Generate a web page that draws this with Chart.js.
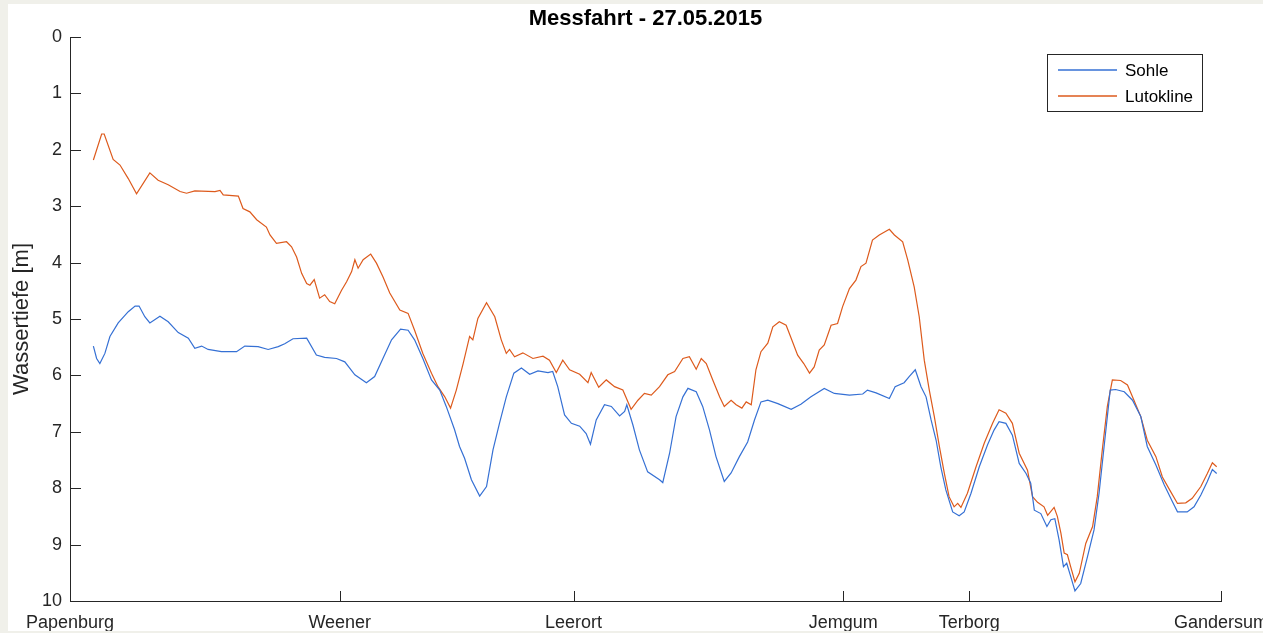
<!DOCTYPE html>
<html>
<head>
<meta charset="utf-8">
<script src="https://cdn.jsdelivr.net/npm/chart.js@4/dist/chart.umd.min.js"></script>
<style>
html,body{margin:0;padding:0;width:1263px;height:633px;overflow:hidden;background:#f0f0ea;}
#wrap{position:absolute;left:8px;top:4px;width:1275px;height:627px;background:#ffffff;}
canvas{display:block;}
</style>
</head>
<body>
<div id="wrap"><canvas id="c" width="1275" height="627"></canvas></div>
<script>
// ---- Data (distance along the Ems in km, depth in m) ----
const chartTitle = 'Messfahrt - 27.05.2015';
const yAxisTitle = 'Wassertiefe [m]';
const seriesNames = ['Sohle', 'Lutokline'];

const placePositions = [0, 7.5, 14, 21.5, 25, 32];
const placeNames = ['Papenburg', 'Weener', 'Leerort', 'Jemgum', 'Terborg', 'Gandersum'];
const depthTicks = [0, 1, 2, 3, 4, 5, 6, 7, 8, 9, 10];

const sohleKm = [0.65,0.74,0.83,0.97,1.11,1.34,1.62,1.81,1.92,2.08,2.22,2.50,2.73,3.01,3.29,3.47,3.66,3.84,4.21,4.63,4.86,5.23,5.51,5.79,5.97,6.20,6.58,6.85,7.08,7.41,7.64,7.92,8.24,8.47,8.70,8.94,9.19,9.40,9.58,9.81,10.05,10.28,10.46,10.69,10.83,10.97,11.16,11.39,11.58,11.76,11.94,12.13,12.34,12.55,12.78,13.01,13.29,13.42,13.56,13.75,13.94,14.17,14.35,14.47,14.63,14.86,15.05,15.28,15.42,15.48,15.65,15.83,16.06,16.39,16.48,16.67,16.85,17.04,17.18,17.41,17.59,17.78,17.96,18.19,18.38,18.61,18.84,19.03,19.21,19.40,19.68,20.05,20.32,20.60,20.97,21.25,21.67,22.04,22.17,22.41,22.78,22.94,23.19,23.33,23.50,23.66,23.80,23.94,24.08,24.21,24.35,24.54,24.72,24.86,25.05,25.28,25.51,25.69,25.83,26.02,26.20,26.39,26.58,26.71,26.81,26.99,27.16,27.27,27.38,27.50,27.62,27.71,27.81,27.94,28.10,28.29,28.47,28.61,28.75,28.92,29.07,29.31,29.54,29.77,29.95,30.19,30.42,30.65,30.79,31.06,31.25,31.44,31.62,31.76,31.88];
const sohleDepth = [5.48,5.70,5.79,5.61,5.31,5.07,4.87,4.77,4.77,4.96,5.07,4.95,5.05,5.24,5.34,5.52,5.48,5.54,5.58,5.58,5.48,5.49,5.54,5.49,5.44,5.35,5.34,5.64,5.68,5.70,5.76,5.99,6.13,6.02,5.70,5.37,5.18,5.20,5.37,5.70,6.08,6.26,6.55,6.96,7.26,7.47,7.85,8.14,7.97,7.32,6.85,6.38,5.96,5.87,5.98,5.92,5.95,5.93,6.20,6.70,6.85,6.90,7.03,7.22,6.79,6.52,6.55,6.72,6.64,6.52,6.88,7.32,7.71,7.85,7.90,7.38,6.73,6.38,6.23,6.29,6.55,6.97,7.44,7.88,7.73,7.44,7.18,6.79,6.47,6.44,6.50,6.60,6.51,6.38,6.23,6.32,6.35,6.33,6.26,6.31,6.41,6.20,6.13,6.02,5.90,6.20,6.38,6.79,7.15,7.62,8.03,8.42,8.49,8.42,8.09,7.62,7.23,6.97,6.82,6.85,7.06,7.56,7.74,7.91,8.39,8.45,8.68,8.56,8.54,8.92,9.39,9.33,9.54,9.82,9.69,9.21,8.74,8.09,7.26,6.26,6.25,6.29,6.44,6.73,7.26,7.59,7.94,8.24,8.42,8.42,8.33,8.12,7.88,7.67,7.74];

const lutoKm = [0.65,0.88,0.95,1.20,1.39,1.62,1.85,2.22,2.45,2.73,3.06,3.24,3.47,4.03,4.17,4.26,4.68,4.81,5.00,5.19,5.46,5.56,5.74,6.02,6.16,6.30,6.44,6.58,6.67,6.79,6.94,7.08,7.22,7.36,7.55,7.69,7.83,7.92,8.01,8.15,8.36,8.52,8.70,8.89,9.17,9.40,9.58,9.81,10.05,10.23,10.42,10.58,10.74,10.93,11.11,11.20,11.34,11.58,11.81,11.99,12.13,12.22,12.36,12.59,12.87,13.15,13.33,13.52,13.70,13.89,14.17,14.40,14.49,14.70,14.91,15.14,15.37,15.60,15.79,15.97,16.16,16.39,16.62,16.81,17.04,17.22,17.41,17.55,17.69,17.87,18.06,18.19,18.38,18.52,18.68,18.80,18.94,19.07,19.21,19.40,19.54,19.72,19.91,20.05,20.23,20.40,20.56,20.69,20.83,20.97,21.16,21.34,21.48,21.67,21.85,21.99,22.13,22.31,22.50,22.78,22.92,23.15,23.29,23.47,23.61,23.75,23.89,24.03,24.17,24.31,24.44,24.58,24.68,24.77,24.95,25.19,25.42,25.65,25.83,26.02,26.20,26.39,26.62,26.76,26.90,27.08,27.18,27.36,27.45,27.55,27.64,27.73,27.82,27.94,28.06,28.24,28.43,28.56,28.70,28.84,28.98,29.21,29.40,29.58,29.77,29.95,30.19,30.37,30.60,30.79,31.02,31.20,31.44,31.62,31.76,31.88];
const lutoDepth = [2.18,1.72,1.72,2.17,2.27,2.51,2.78,2.41,2.54,2.62,2.74,2.77,2.73,2.74,2.72,2.80,2.82,3.04,3.10,3.24,3.37,3.51,3.66,3.63,3.72,3.90,4.19,4.37,4.40,4.30,4.63,4.57,4.69,4.73,4.49,4.34,4.16,3.95,4.10,3.95,3.85,4.01,4.25,4.54,4.84,4.90,5.20,5.61,5.96,6.20,6.38,6.58,6.26,5.79,5.31,5.37,4.99,4.71,4.96,5.37,5.61,5.54,5.67,5.60,5.70,5.66,5.73,5.95,5.73,5.90,5.98,6.13,5.95,6.21,6.08,6.20,6.26,6.60,6.44,6.32,6.35,6.20,5.99,5.93,5.70,5.67,5.89,5.70,5.79,6.08,6.38,6.55,6.44,6.52,6.58,6.47,6.52,5.90,5.58,5.43,5.14,5.05,5.11,5.34,5.64,5.79,5.96,5.85,5.55,5.46,5.11,5.08,4.78,4.46,4.31,4.07,4.01,3.60,3.51,3.41,3.51,3.63,3.95,4.43,4.96,5.73,6.26,6.73,7.26,7.74,8.15,8.33,8.27,8.34,8.09,7.62,7.20,6.85,6.61,6.67,6.85,7.38,7.68,8.15,8.25,8.33,8.48,8.34,8.50,8.80,9.15,9.18,9.39,9.66,9.51,8.98,8.68,8.15,7.32,6.55,6.08,6.09,6.17,6.44,6.73,7.15,7.44,7.80,8.06,8.27,8.26,8.18,7.97,7.74,7.55,7.62];

const seriesColors = ['#3570D4', '#DD5A1C'];
const axisColor = '#262626';
const fontFamily = '"Liberation Sans", Arial, Helvetica, sans-serif';

Chart.defaults.font.family = fontFamily;

const toPoints = (xs, ys) => xs.map((x, i) => ({ x: x, y: ys[i] }));

// Title centred over the axes (as MATLAB does)
const axesTitle = {
  id: 'axesTitle',
  afterDraw(chart) {
    const { ctx, chartArea: a } = chart;
    ctx.save();
    ctx.fillStyle = '#000000';
    ctx.font = 'bold 22px ' + fontFamily;
    ctx.textAlign = 'center';
    ctx.textBaseline = 'middle';
    ctx.fillText(chartTitle, (a.left + a.right) / 2, a.top - 18.5);
    ctx.restore();
  }
};

const innerTicks = {
  id: 'innerTicks',
  afterDraw(chart) {
    const { ctx, chartArea: a, scales } = chart;
    ctx.save();
    ctx.strokeStyle = axisColor;
    ctx.lineWidth = 1;
    ctx.beginPath();
    scales.y.ticks.forEach(t => {
      const y = Math.round(scales.y.getPixelForValue(t.value)) + 0.5;
      ctx.moveTo(a.left, y);
      ctx.lineTo(a.left + 11, y);
    });
    scales.x.ticks.forEach(t => {
      const x = Math.round(scales.x.getPixelForValue(t.value)) + 0.5;
      ctx.moveTo(x, a.bottom);
      ctx.lineTo(x, a.bottom - 10);
    });
    ctx.stroke();
    ctx.restore();
  }
};

const boxLegend = {
  id: 'boxLegend',
  afterDraw(chart) {
    const { ctx, chartArea: a } = chart;
    const w = 156, h = 58;
    const left = a.right - 18 - w, top = a.top + 17;
    ctx.save();
    ctx.fillStyle = '#ffffff';
    ctx.fillRect(left, top, w, h);
    ctx.strokeStyle = axisColor;
    ctx.lineWidth = 1;
    ctx.strokeRect(left + 0.5, top + 0.5, w - 1, h - 1);
    ctx.font = '17px ' + fontFamily;
    ctx.textBaseline = 'middle';
    chart.data.datasets.forEach((ds, i) => {
      const y = top + 16 + i * 26;
      ctx.strokeStyle = ds.borderColor;
      ctx.lineWidth = 1.3;
      ctx.beginPath();
      ctx.moveTo(left + 11, y);
      ctx.lineTo(left + 70, y);
      ctx.stroke();
      ctx.fillStyle = '#000000';
      ctx.fillText(ds.label, left + 78, y + 1);
    });
    ctx.restore();
  }
};

new Chart(document.getElementById('c'), {
  type: 'line',
  data: {
    datasets: [
      { label: seriesNames[0], data: toPoints(sohleKm, sohleDepth), borderColor: seriesColors[0], backgroundColor: seriesColors[0], borderWidth: 1.2, pointRadius: 0, tension: 0, fill: false },
      { label: seriesNames[1], data: toPoints(lutoKm, lutoDepth), borderColor: seriesColors[1], backgroundColor: seriesColors[1], borderWidth: 1.2, pointRadius: 0, tension: 0, fill: false }
    ]
  },
  options: {
    responsive: false,
    animation: false,
    layout: { padding: { left: 0, right: 62, top: 33, bottom: 0 } },
    plugins: {
      legend: { display: false },
      tooltip: { enabled: false },
      title: { display: false }
    },
    scales: {
      x: {
        type: 'linear',
        min: placePositions[0],
        max: placePositions[placePositions.length - 1],
        afterBuildTicks: s => { s.ticks = placePositions.map(v => ({ value: v })); },
        afterFit: s => { s.height = 30; s.paddingLeft = 0; s.paddingRight = 0; },
        ticks: {
          autoSkip: false,
          maxRotation: 0,
          padding: 11,
          color: axisColor,
          font: { size: 18 },
          callback: (v, i) => placeNames[i]
        },
        grid: { display: false, drawTicks: false },
        border: { display: true, color: axisColor, width: 1 }
      },
      y: {
        type: 'linear',
        reverse: true,
        min: depthTicks[0],
        max: depthTicks[depthTicks.length - 1],
        afterBuildTicks: s => { s.ticks = depthTicks.map(v => ({ value: v })); },
        afterFit: s => { s.width = 62; s.paddingTop = 0; s.paddingBottom = 0; },
        ticks: { padding: 8, color: axisColor, font: { size: 18 } },
        grid: { display: false, drawTicks: false },
        border: { display: true, color: axisColor, width: 1 },
        title: {
          display: true,
          text: yAxisTitle,
          color: axisColor,
          font: { size: 22 },
          padding: { top: 1, bottom: 0 }
        }
      }
    }
  },
  plugins: [innerTicks, boxLegend, axesTitle]
});
</script>
</body>
</html>
